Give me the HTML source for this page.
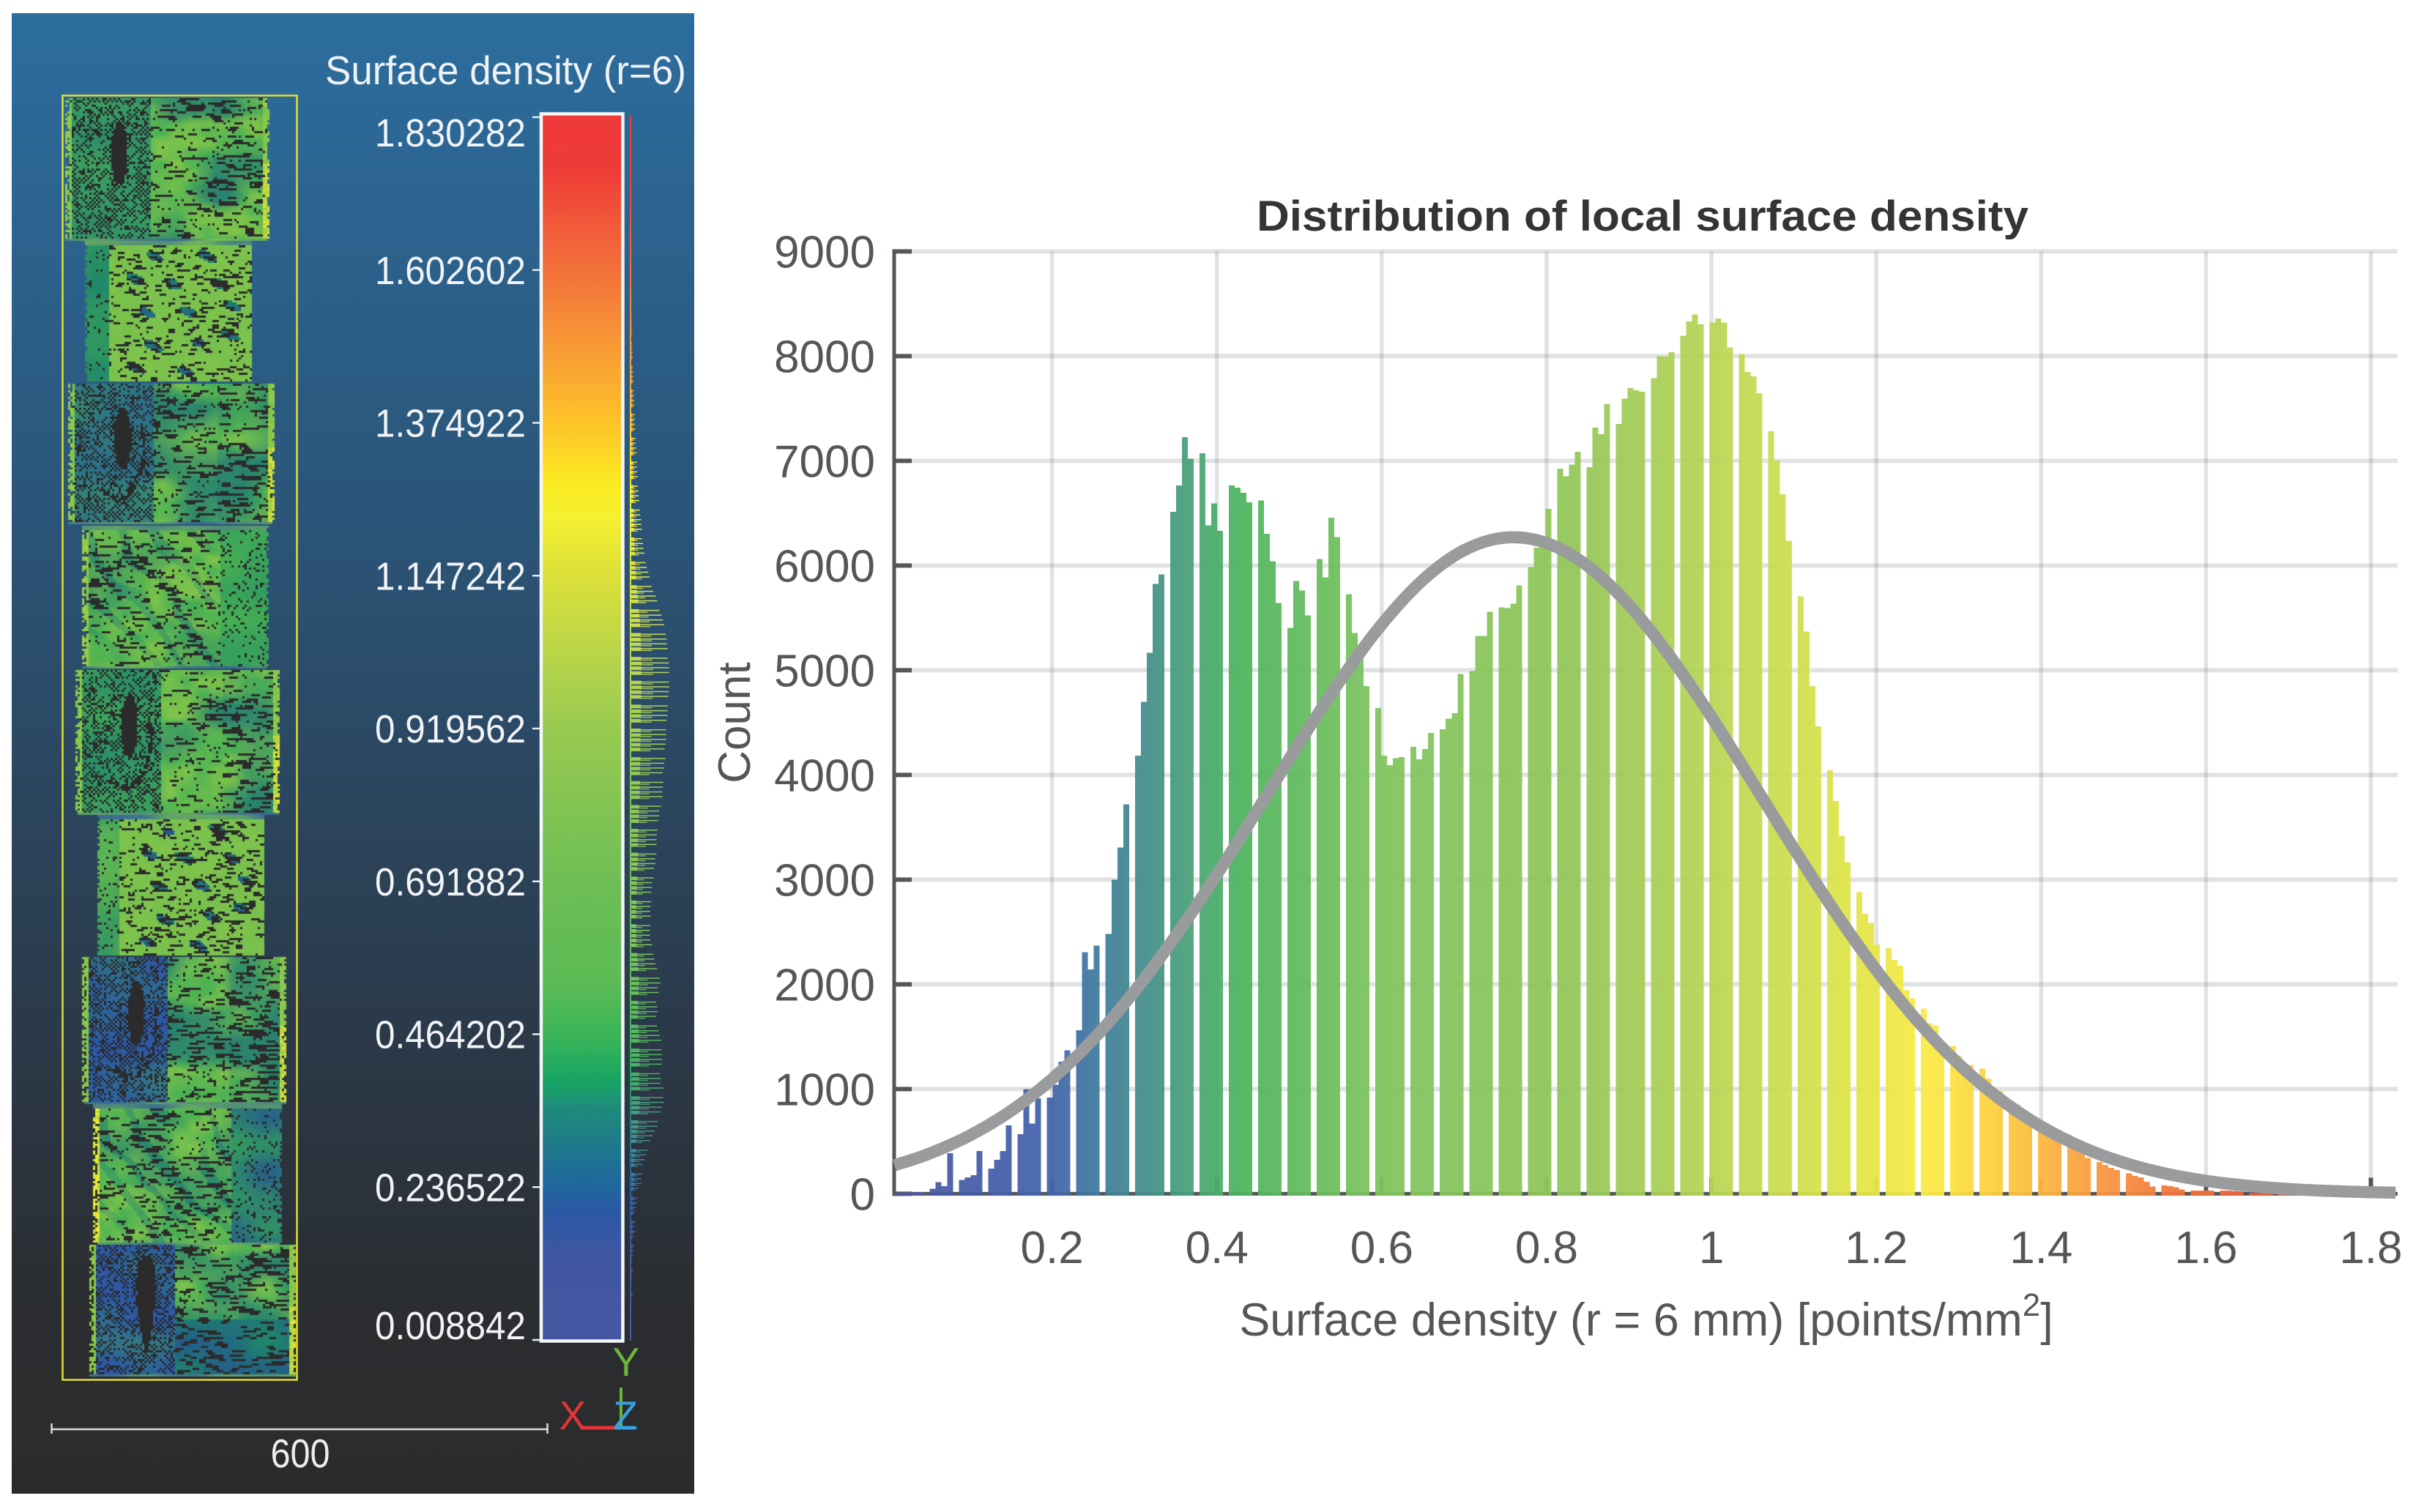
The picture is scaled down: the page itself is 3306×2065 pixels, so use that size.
<!DOCTYPE html>
<html lang="en">
<head>
<meta charset="utf-8">
<title>Local surface density</title>
<style>
html,body{margin:0;padding:0;background:#fff;}
#stage{position:relative;width:3306px;height:2065px;overflow:hidden;background:#fff;font-family:"Liberation Sans",sans-serif;}
#cloud-panel{position:absolute;left:16px;top:18px;width:932px;height:2022px;background:linear-gradient(180deg,#2c6d9e 0%,#2b5477 35%,#2b3a4a 68%,#2b2d30 88%,#2b2b2b 100%);}
#cloud{position:absolute;left:0;top:0;}
#overlay{position:absolute;left:0;top:0;}
</style>
</head>
<body>
<div id="stage">
  <div id="cloud-panel"></div>
  <canvas id="cloud" width="950" height="2040"></canvas>
  <svg id="overlay" width="3306" height="2065" viewBox="0 0 3306 2065" xmlns="http://www.w3.org/2000/svg" font-family="'Liberation Sans',sans-serif">
    <defs>
      <linearGradient id="cbar" x1="0" y1="0" x2="0" y2="1">
        <stop offset="0" stop-color="#ef3a3a"/>
        <stop offset="0.043" stop-color="#ef3b38"/>
        <stop offset="0.127" stop-color="#f2703a"/>
        <stop offset="0.199" stop-color="#f9a034"/>
        <stop offset="0.251" stop-color="#fdc229"/>
        <stop offset="0.303" stop-color="#fbec22"/>
        <stop offset="0.326" stop-color="#f6f030"/>
        <stop offset="0.377" stop-color="#dbe03a"/>
        <stop offset="0.456" stop-color="#b0d24c"/>
        <stop offset="0.500" stop-color="#98ca50"/>
        <stop offset="0.626" stop-color="#6ebe55"/>
        <stop offset="0.708" stop-color="#5cbb55"/>
        <stop offset="0.750" stop-color="#3bb558"/>
        <stop offset="0.787" stop-color="#18a663"/>
        <stop offset="0.812" stop-color="#1f8a7c"/>
        <stop offset="0.875" stop-color="#1f669e"/>
        <stop offset="0.894" stop-color="#2b59a5"/>
        <stop offset="0.932" stop-color="#3f56a2"/>
        <stop offset="1" stop-color="#4657a2"/>
      </linearGradient>
    </defs>

    <!-- viewer overlays -->
    <rect x="85.5" y="130.5" width="320" height="1754" fill="none" stroke="#e4e02c" stroke-width="2.5"/>

    <text x="937" y="115" font-size="55" fill="#eef2f5" text-anchor="end" textLength="493" lengthAdjust="spacingAndGlyphs">Surface density (r=6)</text>

    <rect x="739" y="155.5" width="111.5" height="1676" fill="url(#cbar)" stroke="#f4f6f8" stroke-width="4.5"/>
    <g id="cbar-ticks"></g>
    <rect x="860" y="158" width="2" height="1673" fill="url(#cbar)"/>
    <g id="side-hist"></g>

    <g stroke="#dcdcdc" stroke-width="2.5">
      <line x1="70" y1="1952" x2="748" y2="1952"/>
      <line x1="70.5" y1="1944" x2="70.5" y2="1958"/>
      <line x1="747.5" y1="1944" x2="747.5" y2="1958"/>
    </g>
    <text x="410" y="2004" font-size="55" fill="#eeeeee" text-anchor="middle" textLength="81" lengthAdjust="spacingAndGlyphs">600</text>

    <g>
      <line x1="848" y1="1895" x2="848" y2="1950" stroke="#6ab63c" stroke-width="4"/>
      <line x1="793" y1="1950" x2="845" y2="1950" stroke="#e6343a" stroke-width="5"/>
      <line x1="842" y1="1950" x2="866" y2="1950" stroke="#36a0e0" stroke-width="5"/>
      <text x="855" y="1879" font-size="55" fill="#6ab63c" text-anchor="middle">Y</text>
      <text x="782" y="1952" font-size="55" fill="#e6343a" text-anchor="middle">X</text>
      <text x="854" y="1952" font-size="55" fill="#36a0e0" text-anchor="middle">Z</text>
    </g>

    <!-- histogram chart -->
    <text x="2243" y="315" font-size="58" font-weight="bold" fill="#333436" text-anchor="middle" textLength="1054" lengthAdjust="spacingAndGlyphs">Distribution of local surface density</text>
    <g id="grid"></g>
    <g id="axes"></g>
    <g id="bars" shape-rendering="crispEdges"></g>
    <path id="fit" fill="none" stroke="#9a9b9d" stroke-width="16.5"/>
    <g id="tick-labels" font-size="62" fill="#555658"></g>
    <text transform="translate(1024,987) rotate(-90)" font-size="62" fill="#555658" text-anchor="middle">Count</text>
    <text x="2248" y="1824" font-size="63" fill="#555658" text-anchor="middle">Surface density (r = 6 mm) [points/mm<tspan dy="-27" font-size="44">2</tspan><tspan dy="27">]</tspan></text>
  </svg>
</div>

<script>
// ---- chart data ----
const binMin = 0.008842;
const binMax = 1.830282;
const binCounts = [
10,12,12,14,16,0,
50,112,72,387,0,
131,156,178,409,0,
240,325,409,653,0,
569,1000,669,912,0,
919,1040,1262,1369,0,
1562,2306,2144,2369,0,
2481,3000,3306,3719,0,
4184,4698,5168,5823,5916,0,
6514,6766,7227,7019,0,
7072,6383,6592,6333,0,
6766,6745,6695,6604,0,
6620,6305,6041,5642,0,
5405,5851,5760,5524,0,
6062,5888,6458,6271,0,
5726,5355,5112,4848,0,
4640,4184,4094,4159,4172,0,
4268,4150,4246,4402,0,
4436,4539,4589,4966,0,
4994,5327,5327,5558,0,
5601,5595,5636,5810,0,
5985,6172,6200,6542,0,
6925,6851,6963,7087,0,
6941,7318,7255,7542,0,
7352,7595,7695,7673,7660,0,
7791,8000,8000,8037,0,
8196,8330,8399,8302,0,
8321,8358,8321,8084,0,
8022,7850,7807,7645,0,
7284,7003,6682,6237,0,
5704,5371,4848,4464,0,
4044,3750,3420,3168,0,
2882,2673,2588,2379,0,
2344,2232,2176,1945,1868,0,
1769,1630,1608,1440,0,
1413,1322,1231,1231,0,
1196,1100,1010,977,0,
888,854,797,760,0,
690,656,637,600,0,
551,460,396,342,0,
302,276,249,225,0,
195,169,155,115,70,0,
78,72,62,40,0,
32,32,32,30,0,
30,30,28,25,0,
8,8,7,6,0,
5,5,4,4,0,
3,3,3,2,0,
2,2,2,2,0,
1,1,1,1,1
];
const fitDensity = [0.0088,0.05,0.10,0.15,0.20,0.25,0.30,0.35,0.40,0.45,0.50,0.55,0.60,0.65,0.70,0.75,0.80,0.85,0.90,0.95,1.00,1.05,1.10,1.15,1.20,1.25,1.30,1.35,1.40,1.45,1.50,1.55,1.60,1.65,1.70,1.75,1.80,1.83];
const fitCounts = [272,380,556,791,1096,1475,1933,2462,3050,3675,4306,4907,5438,5863,6147,6267,6215,5995,5623,5130,4553,3928,3297,2691,2137,1650,1239,905,643,444,298,195,124,77,46,27,15,11];
const yTicks = [0,1000,2000,3000,4000,5000,6000,7000,8000,9000];
const xTicks = [0.2,0.4,0.6,0.8,1.0,1.2,1.4,1.6,1.8];
const xTickLabels = ["0.2","0.4","0.6","0.8","1","1.2","1.4","1.6","1.8"];
const colorbarValues = [1.830282,1.602602,1.374922,1.147242,0.919562,0.691882,0.464202,0.236522,0.008842];
const colorbarLabels = ["1.830282","1.602602","1.374922","1.147242","0.919562","0.691882","0.464202","0.236522","0.008842"];

// ---- scales ----
function xScale(v){ return 1436.6 + (v - 0.2) * 1125.6; }
function yScale(c){ return 1630.4 - c * 0.1430; }
function cbarScale(v){ return 1830 - (v - binMin) / (binMax - binMin) * 1670; }

const NS = "http://www.w3.org/2000/svg";
function svgEl(tag, attrs, parent){
  const el = document.createElementNS(NS, tag);
  for (const k in attrs) el.setAttribute(k, attrs[k]);
  parent.appendChild(el);
  return el;
}

// colour ramp used for the bars (fraction along range -> rgb)
const rampStops = [0,0.1,0.14,0.185,0.205,0.23,0.27,0.32,0.44,0.48,0.52,0.56,0.6,0.64,0.685,0.725,0.76,0.8,0.845,1];
const rampColors = [[75,87,163],[66,99,173],[65,127,154],[72,155,128],[74,169,111],[79,181,95],[98,187,93],[128,196,95],[143,198,87],[158,203,88],[174,209,86],[192,217,85],[208,223,77],[226,229,72],[249,236,69],[253,211,63],[250,185,63],[248,153,63],[240,120,60],[238,58,58]];
function ramp(t){
  let i = 0;
  while (i < rampStops.length - 2 && t > rampStops[i + 1]) i++;
  const f = Math.min(1, Math.max(0, (t - rampStops[i]) / (rampStops[i + 1] - rampStops[i])));
  const a = rampColors[i], b = rampColors[i + 1];
  return "rgb(" + [0,1,2].map(k => Math.round(a[k] + (b[k] - a[k]) * f)).join(",") + ")";
}

// ---- grid ----
const gridG = document.getElementById("grid");
yTicks.forEach(function(t){
  if (t === 0) return;
  const el = svgEl("line", {x1:1245, x2:3274, y1:yScale(t), y2:yScale(t), stroke:"#6a6d75", "stroke-opacity":0.2, "stroke-width":6}, gridG);
  
  
});
xTicks.forEach(function(t){
  const el = svgEl("line", {x1:xScale(t), x2:xScale(t), y1:yScale(9000), y2:yScale(0), stroke:"#6a6d75", "stroke-opacity":0.2, "stroke-width":5.5}, gridG);
  
  
});

// ---- axes ----
const axesG = document.getElementById("axes");
const yAxisLine = svgEl("line", {x1:1221, x2:1221, y1:yScale(9000)-3, y2:yScale(0)+3, stroke:"#555658", "stroke-width":5}, axesG);


const xAxisLine = svgEl("line", {x1:1219, x2:3274, y1:yScale(0), y2:yScale(0), stroke:"#555658", "stroke-width":5}, axesG);


yTicks.forEach(function(t){
  const el = svgEl("line", {x1:1221, x2:1245, y1:yScale(t), y2:yScale(t), stroke:"#555658", "stroke-width":6}, axesG);
  
  
});
xTicks.forEach(function(t){
  const el = svgEl("line", {x1:xScale(t), x2:xScale(t), y1:yScale(0), y2:yScale(0)-22, stroke:"#555658", "stroke-width":6}, axesG);
  
  
});

// ---- bars and side histogram ----
const barsG = document.getElementById("bars");
const sideG = document.getElementById("side-hist");
const binWidth = (binMax - binMin) / binCounts.length;
binCounts.forEach(function(c, i){
  if (c <= 0) return;
  const v0 = binMin + i * binWidth;
  const col = ramp(i / binCounts.length);
  const bar = svgEl("rect", {
    x: xScale(v0), width: xScale(v0 + binWidth) - xScale(v0),
    y: yScale(c), height: yScale(0) + 2.5 - yScale(c),
    fill: col, "fill-opacity": 0.94
  }, barsG);
  
  
  // side histogram: short solid band plus thin spikes for each bin
  const yTop = cbarScale(v0 + binWidth);
  const band = svgEl("rect", {x: 862, width: c / 8400 * 14, y: yTop, height: 4.5, fill: col}, sideG);
  
  
  const spike = svgEl("rect", {x: 862, width: c / 8400 * 52, y: yTop + 1, height: 1.5, fill: col}, sideG);
  
  
  const spike2 = svgEl("rect", {x: 862, width: c / 8400 * 30, y: yTop + 3.5, height: 1.5, fill: col, "fill-opacity": 0.85}, sideG);
  
  
});

// ---- fit curve (smooth path through the read points) ----
(function(){
  const pts = fitDensity.map((d, i) => [xScale(d), yScale(fitCounts[i])]);
  let d = "M" + pts[0][0] + " " + pts[0][1];
  for (let i = 0; i < pts.length - 1; i++){
    const p0 = pts[Math.max(0, i - 1)], p1 = pts[i], p2 = pts[i + 1], p3 = pts[Math.min(pts.length - 1, i + 2)];
    const c1x = p1[0] + (p2[0] - p0[0]) / 6, c1y = p1[1] + (p2[1] - p0[1]) / 6;
    const c2x = p2[0] - (p3[0] - p1[0]) / 6, c2y = p2[1] - (p3[1] - p1[1]) / 6;
    d += "C" + c1x + " " + c1y + " " + c2x + " " + c2y + " " + p2[0] + " " + p2[1];
  }
  document.getElementById("fit").setAttribute("d", d);
})();

// ---- tick labels ----
const tl = document.getElementById("tick-labels");
yTicks.forEach(function(t){
  const el = svgEl("text", {x:1195, y:yScale(t)+22, "text-anchor":"end"}, tl);
  el.textContent = String(t);
  
  
});
xTicks.forEach(function(t, i){
  const el = svgEl("text", {x:xScale(t), y:1725, "text-anchor":"middle"}, tl);
  el.textContent = xTickLabels[i];
  
  
});

// ---- colorbar ticks and labels ----
const cbG = document.getElementById("cbar-ticks");
colorbarValues.forEach(function(v, i){
  const y = cbarScale(v);
  const tick = svgEl("line", {x1:727, x2:737, y1:y, y2:y, stroke:"#e8ecef", "stroke-width":2.5}, cbG);
  
  
  let shift = 19;
  if (i === 0) shift = 40;
  if (i === colorbarValues.length - 1) shift = -1;
  const label = svgEl("text", {x:718, y:y+shift, "font-size":54, fill:"#f1f3f5", "text-anchor":"end", textLength:206, lengthAdjust:"spacingAndGlyphs"}, cbG);
  label.textContent = colorbarLabels[i];
  
  
});

// ---- point-cloud texture (decorative raster of the scanned specimen) ----
(function(){
  const ctx = document.getElementById("cloud").getContext("2d");
  const cell = 3;
  const DARK = "#2b2b2b";
  function hash(i, j){
    let h = Math.imul(i + 7, 73856093) ^ Math.imul(j + 11, 19349663);
    h = Math.imul(h ^ (h >>> 13), 1274126177);
    return ((h ^ (h >>> 16)) >>> 0) / 4294967296;
  }
  function smooth(x, y){
    const xi = Math.floor(x), yi = Math.floor(y), fx = x - xi, fy = y - yi;
    const sx = fx * fx * (3 - 2 * fx), sy = fy * fy * (3 - 2 * fy);
    const a = hash(xi, yi), b = hash(xi + 1, yi), c = hash(xi, yi + 1), d = hash(xi + 1, yi + 1);
    return (a + (b - a) * sx) * (1 - sy) + (c + (d - c) * sx) * sy;
  }
  function mix(a, b, t){
    t = Math.max(0, Math.min(1, t));
    return [a[0]+(b[0]-a[0])*t, a[1]+(b[1]-a[1])*t, a[2]+(b[2]-a[2])*t];
  }
  const GREEN = [70,176,84], LIME = [118,192,78], BRIGHT = [128,196,74], TEAL = [30,135,105], BLUE = [44,88,166], YEL = [236,232,50], DEEP = [36,84,146];
  const blocks = [
    {t:"A",x0:89, x1:369,y0:134, y1:329, b:0.12,s:1, ring:0},
    {t:"B",x0:116,x1:346,y0:329, y1:522, s:2, band:0.14, bandCol:TEAL},
    {t:"A",x0:93, x1:375,y0:524, y1:718, b:0.55,s:3, ring:1},
    {t:"C",x0:112,x1:367,y0:718, y1:915, r:0.73,rc:GREEN,s:4},
    {t:"A",x0:103,x1:382,y0:915, y1:1113,b:0.05,s:5, ring:1},
    {t:"B",x0:133,x1:362,y0:1113,y1:1307,s:6, band:0.13, bandCol:LIME},
    {t:"A",x0:112,x1:393,y0:1307,y1:1508,b:0.9, s:7, ring:1},
    {t:"C",x0:127,x1:385,y0:1508,y1:1700,r:0.73,rc:DEEP,s:8},
    {t:"A",x0:122,x1:404,y0:1700,y1:1881,b:1.0, s:9, ring:0}
  ];
  const spots = [[.42,.11],[.72,.10],[.30,.27],[.52,.30],[.80,.30],[.36,.50],[.62,.50],[.88,.46],[.40,.74],[.68,.72],[.86,.66],[.30,.90],[.60,.92]];
  blocks.forEach(function(B){
    const s = B.s;
    const nx = Math.floor((B.x1 - B.x0) / cell), ny = Math.floor((B.y1 - B.y0) / cell);
    function dash(i, j, p, len){
      const off = Math.floor(hash(j * 3 + 1, s) * len);
      const b = Math.floor((i + off) / len);
      return hash(b + s * 13, j + s * 50) < p;
    }
    for (let j = 0; j < ny; j++){
      for (let i = 0; i < nx; i++){
        const u = i / nx, v = j / ny;
        const n = hash(i + s * 1000, j + s * 500);
        const low = smooth(u * 5 + s * 3.3, v * 5 + s * 1.7);
        const fine = smooth(u * 13 + s, v * 13 + s * 2);
        // jagged silhouette
        if ((u < 0.012 || u > 0.988) && n < 0.4) continue;
        let col, dark = false;
        if (B.t === "A"){
          if (u < 0.41){
            // dithered, darker half with the elliptical hole
            col = mix(mix(GREEN, TEAL, 0.2 + low * 0.6), BLUE, B.b * (0.55 + 0.6 * low));
            const checker = (i + j) % 2 === 0;
            dark = checker ? n < 0.62 : n < 0.1;
            const dx = (u - 0.26) / 0.04, dy = (v - 0.38) / 0.22;
            if (s === 9) {
              const qx = (u - 0.27) / (0.07 * Math.max(0.1, 1 - v * 0.9)), qy = (v - 0.45) / 0.38;
              if (qx * qx + qy * qy < 1) dark = true;
            } else if (dx * dx + dy * dy < 1) dark = true;
            if (B.ring){
              const rx = (u - 0.23) / 0.14, ry = (v - 0.45) / 0.38;
              const rad = Math.sqrt(rx * rx + ry * ry);
              const ang = Math.atan2(ry, rx);
              if (rad > 0.88 && rad < 1 && ang > -0.4 && ang < 2.2 && n < 0.8) dark = true;
            }
          } else {
            const t = Math.max(0, Math.min(1, (low - 0.38) * 1.8 + (u > 0.72 ? 0.2 : 0)));
            col = mix(mix(BRIGHT, GREEN, fine), mix(TEAL, DEEP, 0.25), t * 0.85);
            dark = dash(i, j, 0.08 + 0.22 * t + (u > 0.72 ? 0.08 : 0), 4) || n < 0.05;
            if (s === 9 && v > 0.55) { col = mix(DEEP, TEAL, low); dark = dash(i, j, 0.26, 3); }
          }
          if (u > 0.965 || u < 0.03) {
            col = mix(LIME, YEL, (u > 0.5 && v > 0.45) ? (n * 0.8 + 0.2) : n * 0.3);
            dark = n < 0.05;
          }
          if (v > 0.975) { col = mix(LIME, BLUE, low); dark = false; }
        } else if (B.t === "B"){
          if (u < B.band) {
            col = mix(B.bandCol, mix(GREEN, TEAL, low), 0.4 + low * 0.4);
            dark = n < 0.07;
          } else {
            col = mix(LIME, BRIGHT, fine);
            dark = dash(i, j, 0.14, 3) || n < 0.05;
            for (const sp of spots){
              const ax = u - sp[0], ay = v - sp[1];
              const rx = (ax * 0.85 + ay * 0.5) / 0.06, ry = (-ax * 0.5 + ay * 0.85) / 0.03;
              if (rx * rx + ry * ry < 1 + (fine - 0.5)) { col = mix(DEEP, TEAL, fine); dark = dash(i, j, 0.55, 3); break; }
            }
          }
          if (v < 0.03) { col = mix(LIME, BLUE, low); dark = false; }
        } else {
          const sRay = Math.sin((u * 1.5 - v * 0.9) * 22 + low * 5);
          const t = Math.max(0, Math.min(1, (low - 0.42) * 1.1 + (sRay > 0.55 ? 0.45 : 0)));
          col = mix(mix(BRIGHT, GREEN, fine), mix(TEAL, DEEP, 0.2), t * 0.85);
          dark = dash(i, j, 0.1 + 0.26 * t, 4) || n < 0.05;
          if (u > B.r) {
            col = mix(B.rc, mix(TEAL, GREEN, 0.5), low);
            dark = n < 0.12;
          }
          if (u < 0.03) { col = mix(LIME, YEL, s === 8 ? n + 0.3 : n * 0.4); dark = n < 0.1; }
          if (v < 0.02 || v > 0.98) { col = mix(LIME, BLUE, low); dark = false; }
        }
        ctx.fillStyle = dark ? DARK : "rgb(" + col.map(Math.round).join(",") + ")";
        ctx.fillRect(B.x0 + i * cell, B.y0 + j * cell, cell, cell);
      }
    }
  });
})();
</script>
</body>
</html>
